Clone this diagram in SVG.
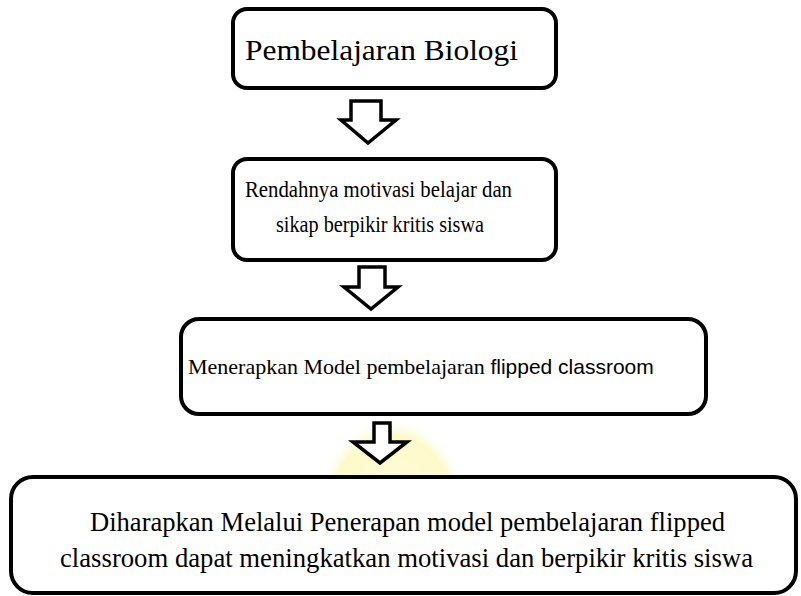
<svg xmlns="http://www.w3.org/2000/svg" width="801" height="596" viewBox="0 0 801 596">
<defs>
<style>
.box{fill:#fff;stroke:#000;stroke-width:4}
.arr{fill:#fff;stroke:#000;stroke-width:3.5;stroke-linejoin:miter}
text{font-family:'Liberation Serif','Times New Roman',Times,serif;fill:#000}
.s{font-family:'Liberation Sans',Arial,sans-serif}
</style>
<radialGradient id="glow" cx="0.5" cy="0.5" r="0.5">
<stop offset="0" stop-color="#fffbe0" stop-opacity="1"/>
<stop offset="0.8" stop-color="#fdf9c4" stop-opacity="0.9"/>
<stop offset="1" stop-color="#ffffff" stop-opacity="0"/>
</radialGradient>
</defs>
<rect width="801" height="596" fill="#fff"/>
<ellipse cx="392" cy="505" rx="75" ry="88" fill="url(#glow)"/>
<g id="connectors">
<path class="arr" d="M351,101 H381 V120 H396 L368,143 L341,120 H351 Z"/>
<path class="arr" d="M359,267 H385 V287 H398 L371,309 L344,287 H359 Z"/>
<path class="arr" d="M374,423 H390 V442 H407 L380,463 L353,442 H374 Z"/>
</g>
<g id="n1">
<rect class="box" x="233" y="9" width="323" height="79" rx="14"/>
<text x="245" y="60" font-size="30" textLength="273" lengthAdjust="spacingAndGlyphs">Pembelajaran Biologi</text>
</g>
<g id="n2">
<rect class="box" x="233" y="159" width="323" height="101" rx="14"/>
<text x="245" y="197" font-size="23" textLength="267" lengthAdjust="spacingAndGlyphs">Rendahnya motivasi belajar dan</text>
<text x="276" y="232" font-size="23" textLength="208" lengthAdjust="spacingAndGlyphs">sikap berpikir kritis siswa</text>
</g>
<g id="n3">
<rect class="box" x="181" y="319" width="525" height="95" rx="18"/>
<text x="188" y="374" font-size="22">Menerapkan Model pembelajaran <tspan class="s" font-size="21">flipped classroom</tspan></text>
</g>
<g id="n4">
<rect class="box" x="11" y="477" width="785" height="116" rx="22"/>
<text x="90" y="531" font-size="28" textLength="635" lengthAdjust="spacingAndGlyphs">Diharapkan Melalui Penerapan model pembelajaran flipped</text>
<text x="60" y="567" font-size="28" textLength="693" lengthAdjust="spacingAndGlyphs">classroom dapat meningkatkan motivasi dan berpikir kritis siswa</text>
</g>
</svg>
